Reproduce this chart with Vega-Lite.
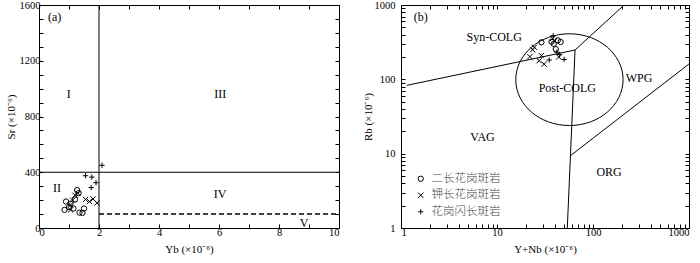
{
  "$schema": "https://vega.github.io/schema/vega-lite/v6.json",
  "padding": {"left": 5, "top": 0, "right": 0, "bottom": 0},
  "spacing": 22,
  "config": {
    "font": "Liberation Serif",
    "view": {"stroke": null},
    "axis": {"grid": false, "domainColor": "black", "domainWidth": 1, "tickColor": "black", "tickWidth": 1, "labelColor": "black", "titleColor": "black", "labelFont": "Liberation Serif", "titleFont": "Liberation Serif", "labelFontSize": 10.5, "titleFontSize": 11, "titleFontWeight": "normal", "tickSize": -4, "labelPadding": 3}
  },
  "resolve": {"legend": {"shape": "independent"}, "scale": {"shape": "independent"}},
  "hconcat": [
    {
      "width": 300, "height": 223,
      "resolve": {"axis": {"x": "independent", "y": "independent"}},
      "layer": [
        {
          "data": {"values": [{"x": 2, "y": 0, "x2": 2, "y2": 1600}, {"x": 0, "y": 400, "x2": 10, "y2": 400}]},
          "mark": {"type": "rule", "color": "black", "strokeWidth": 1},
          "encoding": {
            "x": {"field": "x", "type": "quantitative", "scale": {"domain": [0, 10], "nice": false}, "axis": {"orient": "bottom", "values": [0,1,2,3,4,5,6,7,8,9,10], "labelExpr": "datum.value % 2 === 0 ? datum.label : ''", "title": "Yb (×10⁻⁶)", "titlePadding": 6}},
            "y": {"field": "y", "type": "quantitative", "scale": {"domain": [0, 1600], "nice": false}, "axis": {"orient": "left", "values": [0,100,200,300,400,500,600,700,800,900,1000,1100,1200,1300,1400,1500,1600], "labelExpr": "datum.value % 400 === 0 ? datum.label : ''", "format": "d", "title": "Sr (×10⁻⁶)", "titlePadding": 3}},
            "x2": {"field": "x2"},
            "y2": {"field": "y2"}
          }
        },
        {
          "data": {"values": [{"x": 2, "y": 100, "x2": 10, "y2": 100}]},
          "mark": {"type": "rule", "color": "black", "strokeWidth": 1.5, "strokeDash": [5, 3]},
          "encoding": {
            "x": {"field": "x", "type": "quantitative", "axis": {"orient": "top", "values": [0,1,2,3,4,5,6,7,8,9,10], "labels": false, "title": null}},
            "y": {"field": "y", "type": "quantitative", "axis": {"orient": "right", "values": [0,100,200,300,400,500,600,700,800,900,1000,1100,1200,1300,1400,1500,1600], "labels": false, "title": null}},
            "x2": {"field": "x2"},
            "y2": {"field": "y2"}
          }
        },
        {
          "data": {"values": [
            {"g": "二长花岗斑岩", "xv": 0.9, "yv": 190},
            {"g": "二长花岗斑岩", "xv": 0.85, "yv": 130},
            {"g": "二长花岗斑岩", "xv": 1.0, "yv": 150},
            {"g": "二长花岗斑岩", "xv": 1.2, "yv": 205},
            {"g": "二长花岗斑岩", "xv": 1.27, "yv": 272},
            {"g": "二长花岗斑岩", "xv": 1.32, "yv": 250},
            {"g": "二长花岗斑岩", "xv": 1.15, "yv": 140},
            {"g": "二长花岗斑岩", "xv": 1.35, "yv": 110},
            {"g": "二长花岗斑岩", "xv": 1.45, "yv": 108},
            {"g": "二长花岗斑岩", "xv": 1.5, "yv": 140},
            {"g": "二长花岗斑岩", "xv": 1.05, "yv": 175},
            {"g": "钾长花岗斑岩", "xv": 1.05, "yv": 130},
            {"g": "钾长花岗斑岩", "xv": 1.05, "yv": 165},
            {"g": "钾长花岗斑岩", "xv": 1.12, "yv": 200},
            {"g": "钾长花岗斑岩", "xv": 1.2, "yv": 235},
            {"g": "钾长花岗斑岩", "xv": 1.3, "yv": 248},
            {"g": "钾长花岗斑岩", "xv": 1.55, "yv": 205},
            {"g": "钾长花岗斑岩", "xv": 1.68, "yv": 190},
            {"g": "钾长花岗斑岩", "xv": 1.8, "yv": 208},
            {"g": "钾长花岗斑岩", "xv": 1.93, "yv": 180},
            {"g": "花岗闪长斑岩", "xv": 1.55, "yv": 375},
            {"g": "花岗闪长斑岩", "xv": 1.76, "yv": 365},
            {"g": "花岗闪长斑岩", "xv": 1.9, "yv": 325},
            {"g": "花岗闪长斑岩", "xv": 1.74, "yv": 290},
            {"g": "花岗闪长斑岩", "xv": 2.1, "yv": 450}
          ]},
          "mark": {"type": "point", "filled": false, "stroke": "black", "strokeWidth": 1, "size": 28, "opacity": 1},
          "encoding": {
            "x": {"field": "xv", "type": "quantitative", "axis": null},
            "y": {"field": "yv", "type": "quantitative", "axis": null},
            "shape": {"field": "g", "type": "nominal", "scale": {"domain": ["二长花岗斑岩", "钾长花岗斑岩", "花岗闪长斑岩"], "range": ["circle", "M-1,-1L1,1M-1,1L1,-1", "M-1,0L1,0M0,-1L0,1"]}, "legend": null}
          }
        },
        {
          "data": {"values": [
            {"t": "(a)", "xv": 0.52, "yv": 1517},
            {"t": "I", "xv": 0.99, "yv": 964},
            {"t": "III", "xv": 6.04, "yv": 959},
            {"t": "II", "xv": 0.6, "yv": 290},
            {"t": "IV", "xv": 6.04, "yv": 247},
            {"t": "V", "xv": 8.84, "yv": 38}
          ]},
          "mark": {"type": "text", "font": "Liberation Serif", "fontSize": 12, "fill": "black"},
          "encoding": {
            "x": {"field": "xv", "type": "quantitative", "axis": null},
            "y": {"field": "yv", "type": "quantitative", "axis": null},
            "text": {"field": "t"}
          }
        }
      ]
    },
    {
      "width": 288, "height": 223,
      "resolve": {"axis": {"x": "independent", "y": "independent"}},
      "layer": [
        {
          "data": {"values": [
            {"x": 1.15, "y": 83, "x2": 65, "y2": 248},
            {"x": 65, "y": 248, "x2": 211, "y2": 1000},
            {"x": 65, "y": 248, "x2": 54, "y2": 1},
            {"x": 58.3, "y": 9.4, "x2": 1000, "y2": 161}
          ]},
          "mark": {"type": "rule", "color": "black", "strokeWidth": 1},
          "encoding": {
            "x": {"field": "x", "type": "quantitative", "scale": {"type": "log", "domain": [1, 1000], "nice": false}, "axis": {"orient": "bottom", "values": [1,2,3,4,5,6,7,8,9,10,20,30,40,50,60,70,80,90,100,200,300,400,500,600,700,800,900,1000], "labelExpr": "(datum.value == 1 || datum.value == 10 || datum.value == 100 || datum.value == 1000) ? '' + datum.value : ''", "title": "Y+Nb (×10⁻⁶)", "titlePadding": 6}},
            "y": {"field": "y", "type": "quantitative", "scale": {"type": "log", "domain": [1, 1000], "nice": false}, "axis": {"orient": "left", "values": [1,2,3,4,5,6,7,8,9,10,20,30,40,50,60,70,80,90,100,200,300,400,500,600,700,800,900,1000], "labelExpr": "(datum.value == 1 || datum.value == 10 || datum.value == 100 || datum.value == 1000) ? '' + datum.value : ''", "title": "Rb (×10⁻⁶)", "labelPadding": 10, "titlePadding": 1}},
            "x2": {"field": "x2"},
            "y2": {"field": "y2"}
          }
        },
        {
          "data": {"values": [{"xv": 56.8, "yv": 99}]},
          "mark": {"type": "point", "filled": false, "stroke": "black", "strokeWidth": 1, "opacity": 1, "size": 11513, "shape": "M-1,0A1,0.855,0,1,1,1,0A1,0.855,0,1,1,-1,0Z"},
          "encoding": {
            "x": {"field": "xv", "type": "quantitative", "axis": {"orient": "top", "values": [1,2,3,4,5,6,7,8,9,10,20,30,40,50,60,70,80,90,100,200,300,400,500,600,700,800,900,1000], "labels": false, "title": null}},
            "y": {"field": "yv", "type": "quantitative", "axis": {"orient": "right", "values": [1,2,3,4,5,6,7,8,9,10,20,30,40,50,60,70,80,90,100,200,300,400,500,600,700,800,900,1000], "labels": false, "title": null}}
          }
        },
        {
          "data": {"values": [
            {"g": "二长花岗斑岩", "xv": 29, "yv": 315},
            {"g": "二长花岗斑岩", "xv": 37, "yv": 320},
            {"g": "二长花岗斑岩", "xv": 43, "yv": 335},
            {"g": "二长花岗斑岩", "xv": 46, "yv": 318},
            {"g": "二长花岗斑岩", "xv": 41, "yv": 255},
            {"g": "二长花岗斑岩", "xv": 39, "yv": 300},
            {"g": "钾长花岗斑岩", "xv": 22, "yv": 202},
            {"g": "钾长花岗斑岩", "xv": 23.5, "yv": 250},
            {"g": "钾长花岗斑岩", "xv": 24.5, "yv": 270},
            {"g": "钾长花岗斑岩", "xv": 27.5, "yv": 178},
            {"g": "钾长花岗斑岩", "xv": 29, "yv": 208},
            {"g": "钾长花岗斑岩", "xv": 31, "yv": 160},
            {"g": "钾长花岗斑岩", "xv": 38, "yv": 355},
            {"g": "钾长花岗斑岩", "xv": 40, "yv": 330},
            {"g": "钾长花岗斑岩", "xv": 44, "yv": 200},
            {"g": "花岗闪长斑岩", "xv": 35, "yv": 182},
            {"g": "花岗闪长斑岩", "xv": 38.5, "yv": 385},
            {"g": "花岗闪长斑岩", "xv": 45, "yv": 215},
            {"g": "花岗闪长斑岩", "xv": 50, "yv": 185},
            {"g": "花岗闪长斑岩", "xv": 42, "yv": 232}
          ]},
          "mark": {"type": "point", "filled": false, "stroke": "black", "strokeWidth": 1, "size": 28, "opacity": 1},
          "encoding": {
            "x": {"field": "xv", "type": "quantitative", "axis": null},
            "y": {"field": "yv", "type": "quantitative", "axis": null},
            "shape": {"field": "g", "type": "nominal", "scale": {"domain": ["二长花岗斑岩", "钾长花岗斑岩", "花岗闪长斑岩"], "range": ["circle", "M-1,-1L1,1M-1,1L1,-1", "M-1,0L1,0M0,-1L0,1"]}, "legend": {"orient": "none", "legendX": 14, "legendY": 168, "title": null, "labelFont": "Noto Sans CJK SC", "labelFontSize": 11.5, "labelFontWeight": 300, "labelColor": "#444", "symbolStrokeColor": "black", "symbolStrokeWidth": 1, "symbolSize": 28, "symbolFillColor": "transparent", "rowPadding": 3.5, "labelOffset": 5, "padding": 0}}
          }
        },
        {
          "data": {"values": [
            {"t": "(b)", "xv": 1.61, "yv": 692},
            {"t": "Syn-COLG", "xv": 9.35, "yv": 374},
            {"t": "Post-COLG", "xv": 54, "yv": 77},
            {"t": "WPG", "xv": 302, "yv": 105},
            {"t": "VAG", "xv": 7.07, "yv": 16.9},
            {"t": "ORG", "xv": 147, "yv": 5.6}
          ]},
          "mark": {"type": "text", "font": "Liberation Serif", "fontSize": 12, "fill": "black"},
          "encoding": {
            "x": {"field": "xv", "type": "quantitative", "axis": null},
            "y": {"field": "yv", "type": "quantitative", "axis": null},
            "text": {"field": "t"}
          }
        }
      ]
    }
  ]
}
